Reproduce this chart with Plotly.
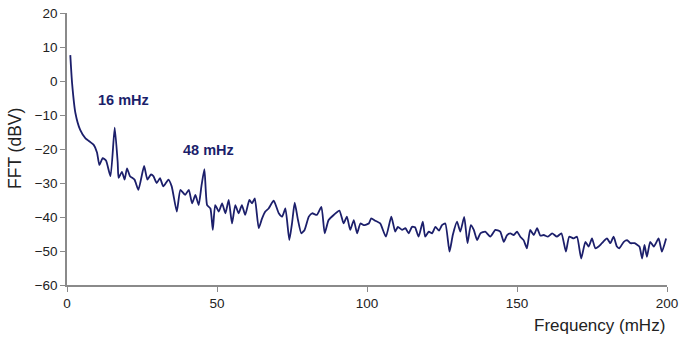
import plotly.graph_objects as go

freq = [1.1, 1.7, 2.8, 4.4, 6.1, 8.9, 10.0, 10.8, 11.9, 13.0, 14.5, 15.9, 16.9, 17.2, 18.3, 19.2,
        20.0, 21.0, 22.5, 23.8, 25.7, 26.8, 28.0, 28.8, 29.9, 31.0, 32.1, 33.8, 34.9, 36.6, 37.8,
        39.4, 40.6, 41.7, 42.8, 43.9, 44.8, 45.8, 46.7, 47.8, 48.6, 49.4, 50.6, 51.7, 52.8, 53.9,
        55.0, 56.1, 57.2, 58.3, 59.4, 60.8, 61.7, 62.6, 63.9, 65.0, 66.1, 67.2, 68.9, 70.6, 71.7,
        72.8, 74.1, 75.0, 75.9, 77.0, 78.1, 79.2, 80.6, 81.7, 83.3, 84.8, 85.9, 87.2, 88.9, 90.8,
        92.2, 93.3, 94.4, 95.6, 96.7, 97.8, 98.9, 100.6, 101.4, 102.8, 104.4, 106.3, 108.1, 109.4,
        110.3, 111.7, 112.8, 113.9, 115.0, 116.0, 117.2, 118.6, 119.4, 120.6, 121.7, 122.8, 124.0,
        125.0, 126.1, 127.5, 128.6, 130.0, 131.1, 132.4, 133.5, 134.6, 135.6, 136.7, 137.8, 139.4,
        141.1, 142.8, 144.4, 145.6, 146.7, 147.8, 148.9, 150.0, 151.1, 152.2, 153.3, 154.4, 155.6,
        156.7, 157.8, 158.9, 160.3, 161.7, 163.3, 164.8, 166.3, 167.4, 168.9, 170.0, 171.4, 172.8,
        173.9, 175.0, 176.1, 177.2, 178.3, 180.0, 181.1, 182.2, 183.3, 184.1, 185.6, 186.7, 187.8,
        189.2, 190.8, 191.7, 192.5, 193.3, 194.4, 195.6, 197.2, 198.3, 199.7]
fft_dbv = [7.6, -0.7, -9.4, -14.4, -16.8, -18.8, -21, -24.7, -22.7, -23.4, -28, -13.7, -24, -28.5,
           -26.7, -29, -25.7, -28, -29, -32, -25, -29, -27.5, -28, -30, -28.6, -31, -29, -31, -38.4,
           -32, -33.5, -32, -36, -33.5, -36.5, -31, -25.9, -36.5, -37.5, -43.8, -36.5, -38.4, -36,
           -38.9, -35, -41.9, -36.5, -38.9, -36.5, -39.4, -35, -36, -34.5, -43.3, -40.5, -38.4,
           -37.5, -35.2, -38.9, -39.9, -37.5, -46.8, -41.9, -35.8, -40.9, -44.8, -43.8, -39.9,
           -38.9, -39.4, -37, -44.8, -40.9, -39.4, -38.1, -41.9, -39.9, -43.8, -40.9, -44.8, -41.9,
           -42.4, -41.9, -40.4, -41.1, -41.9, -45.8, -39.9, -44.3, -42.9, -43.8, -43.3, -44.8,
           -42.9, -43, -45.8, -41.4, -45.8, -44.3, -44.8, -42.9, -44, -42.4, -41.9, -50.2, -45.3,
           -41.4, -44.3, -40, -47.7, -42.4, -43.8, -46.8, -44.8, -44.3, -45.8, -43.8, -44.3, -47.3,
           -45.3, -44.8, -45.3, -44.3, -45.8, -46.8, -49.2, -43.8, -45.3, -43.3, -45.5, -45.3,
           -45.8, -44.8, -45.8, -44.8, -50.2, -45.8, -46.3, -45.8, -52.2, -47.3, -48.7, -46.3,
           -49.2, -48.7, -47.7, -46.3, -47.7, -45.8, -48.7, -49.2, -47.3, -46.8, -47.7, -47.7,
           -48.7, -52.2, -48.2, -51.7, -47.3, -48.7, -46.3, -50.2, -46.3]

peak_labels = ["16 mHz", "48 mHz"]
peak_label_x = [18.7, 47.0]
peak_label_y = [-5.6, -20.3]

x_ticks = [0, 50, 100, 150, 200]
y_ticks = [20, 10, 0, -10, -20, -30, -40, -50, -60]

FONT = "Liberation Sans, Arial"
navy = "#1c1f6b"
fig = go.Figure()
fig.add_trace(go.Scatter(x=freq, y=fft_dbv, mode="lines",
                         line=dict(color=navy, width=1.8, shape="spline", smoothing=0.5),
                         showlegend=False, hoverinfo="skip"))

for t, x, y in zip(peak_labels, peak_label_x, peak_label_y):
    fig.add_annotation(x=x, y=y, text="<b>%s</b>" % t, showarrow=False,
                       font=dict(family=FONT, size=14.5, color=navy))

fig.add_annotation(xref="paper", yref="paper", x=1.0, y=0, yshift=-40, xanchor="right",
                   yanchor="middle", text="Frequency (mHz)", showarrow=False,
                   font=dict(family=FONT, size=17, color="#222"))
fig.add_annotation(xref="paper", yref="paper", x=0, xshift=-52, y=0.5, xanchor="center",
                   yanchor="middle", text="FFT (dBV)", textangle=-90, showarrow=False,
                   font=dict(family=FONT, size=17.5, color="#222"))

axis_common = dict(showgrid=False, zeroline=False, showline=True, linecolor="#8a8a8a",
                   linewidth=1.5, ticks="outside", ticklen=5, tickcolor="#8a8a8a",
                   automargin=False,
                   tickfont=dict(family=FONT, size=13.5, color="#222"))

fig.update_layout(
    width=680, height=337,
    margin=dict(l=67, r=13, t=13, b=52, autoexpand=False),
    paper_bgcolor="white", plot_bgcolor="white",
    xaxis=dict(range=[0, 200], tickvals=x_ticks, **axis_common),
    yaxis=dict(range=[-60, 20], tickvals=y_ticks, **axis_common),
)

fig.write_html("out.html")
